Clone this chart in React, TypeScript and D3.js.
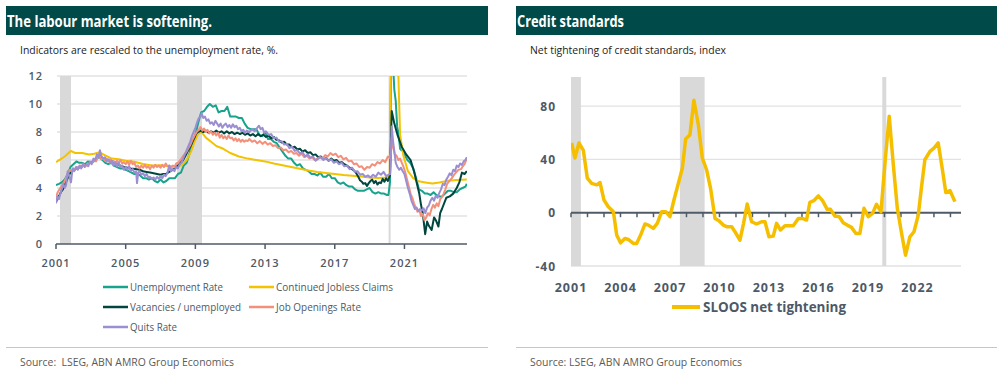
import React from 'react';
import * as d3 from 'd3';

type P = [number, number];

// ---------- Left chart data (year, value) ----------
const unemploymentRate: P[] = [
  [2001.0, 4.2], [2001.17, 4.3], [2001.33, 4.4], [2001.5, 4.6], [2001.67, 5.0], [2001.83, 5.5],
  [2002.0, 5.7], [2002.17, 5.9], [2002.33, 5.8], [2002.5, 5.8], [2002.67, 5.7], [2002.83, 5.9],
  [2003.0, 5.8], [2003.17, 5.9], [2003.33, 6.1], [2003.5, 6.2], [2003.67, 6.0], [2003.83, 5.8],
  [2004.0, 5.7], [2004.17, 5.8], [2004.33, 5.6], [2004.5, 5.5], [2004.67, 5.4], [2004.83, 5.4],
  [2005.0, 5.3], [2005.17, 5.2], [2005.33, 5.1], [2005.5, 5.0], [2005.67, 5.0], [2005.83, 4.9],
  [2006.0, 4.7], [2006.17, 4.7], [2006.33, 4.6], [2006.5, 4.7], [2006.67, 4.5], [2006.83, 4.4],
  [2007.0, 4.6], [2007.17, 4.4], [2007.33, 4.5], [2007.5, 4.7], [2007.67, 4.7], [2007.83, 4.7],
  [2008.0, 5.0], [2008.17, 5.1], [2008.33, 5.6], [2008.5, 5.8], [2008.67, 6.5], [2008.83, 7.3],
  [2009.0, 7.8], [2009.17, 8.7], [2009.33, 9.4], [2009.5, 9.5], [2009.67, 9.8], [2009.83, 10.0],
  [2010.0, 9.8], [2010.17, 9.9], [2010.33, 9.4], [2010.5, 9.5], [2010.67, 9.5], [2010.83, 9.8],
  [2011.0, 9.1], [2011.17, 9.1], [2011.33, 9.1], [2011.5, 9.0], [2011.67, 9.0], [2011.83, 8.6],
  [2012.0, 8.3], [2012.17, 8.2], [2012.33, 8.2], [2012.5, 8.2], [2012.67, 7.8], [2012.83, 7.7],
  [2013.0, 8.0], [2013.17, 7.5], [2013.33, 7.5], [2013.5, 7.3], [2013.67, 7.2], [2013.83, 6.9],
  [2014.0, 6.6], [2014.17, 6.3], [2014.33, 6.1], [2014.5, 6.1], [2014.67, 5.8], [2014.83, 5.6],
  [2015.0, 5.7], [2015.17, 5.4], [2015.33, 5.3], [2015.5, 5.2], [2015.67, 5.0], [2015.83, 5.0],
  [2016.0, 4.9], [2016.17, 5.1], [2016.33, 4.8], [2016.5, 4.8], [2016.67, 5.0], [2016.83, 4.7],
  [2017.0, 4.7], [2017.17, 4.4], [2017.33, 4.3], [2017.5, 4.4], [2017.67, 4.2], [2017.83, 4.1],
  [2018.0, 4.1], [2018.17, 3.9], [2018.33, 3.8], [2018.5, 3.8], [2018.67, 3.8], [2018.83, 3.9],
  [2019.0, 4.0], [2019.17, 3.7], [2019.33, 3.6], [2019.5, 3.7], [2019.67, 3.6], [2019.83, 3.6],
  [2020.0, 3.5], [2020.08, 3.5], [2020.17, 4.4], [2020.25, 14.7], [2020.33, 13.2], [2020.42, 11.0],
  [2020.5, 10.2], [2020.58, 8.4], [2020.67, 7.8], [2020.75, 6.8], [2020.83, 6.7], [2020.92, 6.7],
  [2021.0, 6.4], [2021.17, 6.0], [2021.33, 5.8], [2021.5, 5.4], [2021.67, 4.7], [2021.83, 3.9],
  [2022.0, 3.8], [2022.17, 3.6], [2022.33, 3.6], [2022.5, 3.5], [2022.67, 3.7], [2022.83, 3.5],
  [2023.0, 3.4], [2023.17, 3.4], [2023.33, 3.6], [2023.5, 3.8], [2023.67, 3.8], [2023.83, 3.7],
  [2024.0, 3.7], [2024.17, 3.9], [2024.33, 4.0], [2024.5, 4.1], [2024.58, 4.3],
];

const continuedClaims: P[] = [
  [2001.0, 5.85], [2001.25, 6.05], [2001.5, 6.25], [2001.85, 6.65], [2002.1, 6.5], [2002.5, 6.5],
  [2002.9, 6.4], [2003.2, 6.45], [2003.5, 6.55], [2003.8, 6.35], [2004.2, 6.1], [2004.6, 6.05],
  [2005.0, 5.95], [2005.5, 5.88], [2006.0, 5.72], [2006.5, 5.6], [2007.0, 5.62], [2007.5, 5.55],
  [2007.9, 5.55], [2008.2, 5.6], [2008.5, 6.0], [2008.75, 6.6], [2008.95, 7.3], [2009.15, 7.85],
  [2009.35, 8.0], [2009.6, 7.6], [2009.9, 7.3], [2010.2, 7.0], [2010.6, 6.8], [2011.0, 6.5],
  [2011.5, 6.25], [2012.0, 6.1], [2012.5, 6.0], [2013.0, 5.9], [2013.5, 5.75], [2014.0, 5.63],
  [2014.5, 5.5], [2015.0, 5.38], [2015.5, 5.25], [2016.0, 5.15], [2016.5, 5.07], [2017.0, 5.0],
  [2017.5, 4.93], [2018.0, 4.88], [2018.5, 4.82], [2019.0, 4.75], [2019.5, 4.72], [2020.0, 4.75],
  [2020.15, 4.9], [2020.22, 12.5], [2020.3, 30], [2020.55, 25], [2020.64, 12.5], [2020.75, 7.8],
  [2020.94, 6.3], [2021.2, 5.2], [2021.5, 4.7], [2021.75, 4.5], [2022.2, 4.4], [2022.6, 4.32],
  [2023.0, 4.4], [2023.5, 4.52], [2024.0, 4.58], [2024.58, 4.6],
];

const vacanciesPerUnemployed: P[] = [
  [2001.0, 3.0], [2001.1, 3.3], [2001.2, 3.5], [2001.3, 3.75], [2001.4, 3.9], [2001.5, 4.2],
  [2001.6, 4.5], [2001.7, 4.8], [2001.8, 5.05], [2001.9, 5.2], [2002.0, 5.3], [2002.2, 5.4],
  [2002.4, 5.5], [2002.55, 5.6], [2002.7, 5.65], [2002.85, 5.7], [2002.95, 5.8], [2003.1, 5.9],
  [2003.2, 6.0], [2003.35, 6.15], [2003.5, 6.35], [2003.65, 6.15], [2003.8, 6.1], [2003.95, 6.0],
  [2004.1, 6.0], [2004.3, 5.85], [2004.5, 5.7], [2004.7, 5.6], [2004.9, 5.5], [2005.1, 5.45],
  [2005.3, 5.4], [2005.55, 5.35], [2005.8, 5.3], [2006.0, 5.2], [2006.2, 5.15], [2006.4, 5.1],
  [2006.6, 5.05], [2006.8, 5.0], [2007.0, 4.95], [2007.15, 5.0], [2007.3, 5.0], [2007.5, 5.15],
  [2007.7, 5.3], [2007.85, 5.45], [2008.0, 5.6], [2008.15, 5.8], [2008.3, 6.0], [2008.45, 6.35],
  [2008.55, 6.6], [2008.7, 6.95], [2008.8, 7.2], [2008.95, 7.6], [2009.05, 7.9], [2009.15, 8.0],
  [2009.3, 8.1], [2009.45, 8.0], [2009.6, 8.1], [2009.75, 7.95], [2009.9, 8.05], [2010.05, 7.95],
  [2010.2, 8.1], [2010.35, 7.95], [2010.5, 8.05], [2010.65, 7.9], [2010.8, 8.05], [2010.95, 7.9],
  [2011.1, 8.0], [2011.25, 7.85], [2011.4, 7.95], [2011.56, 7.85], [2011.7, 7.95], [2011.85, 7.8],
  [2012.0, 7.9], [2012.15, 7.75], [2012.3, 7.85], [2012.45, 7.7], [2012.6, 7.85], [2012.75, 7.7],
  [2012.9, 7.8], [2013.05, 7.65], [2013.2, 7.75], [2013.35, 7.55], [2013.5, 7.65], [2013.65, 7.45],
  [2013.8, 7.4], [2013.95, 7.25], [2014.1, 7.3], [2014.25, 7.1], [2014.4, 7.1], [2014.55, 6.9],
  [2014.7, 6.95], [2014.85, 6.75], [2015.0, 6.8], [2015.15, 6.6], [2015.3, 6.7], [2015.45, 6.5],
  [2015.6, 6.55], [2015.75, 6.35], [2015.9, 6.4], [2016.05, 6.2], [2016.2, 6.25], [2016.35, 6.05],
  [2016.5, 6.15], [2016.65, 5.95], [2016.8, 6.1], [2016.95, 5.95], [2017.1, 6.0], [2017.25, 5.8],
  [2017.4, 5.85], [2017.55, 5.7], [2017.7, 5.6], [2017.85, 5.45], [2018.0, 5.35], [2018.15, 5.2],
  [2018.26, 5.0], [2018.35, 4.8], [2018.45, 4.55], [2018.55, 4.45], [2018.64, 4.3], [2018.75, 4.35],
  [2018.85, 4.15], [2018.95, 4.35], [2019.05, 4.5], [2019.15, 4.6], [2019.25, 4.35], [2019.35, 4.5],
  [2019.45, 4.25], [2019.55, 4.4], [2019.65, 4.35], [2019.75, 4.65], [2019.85, 4.45], [2019.95, 4.7],
  [2020.05, 4.5], [2020.17, 4.9], [2020.27, 9.5], [2020.42, 8.6], [2020.6, 7.8], [2020.84, 6.95],
  [2021.1, 6.4], [2021.35, 6.0], [2021.55, 5.2], [2021.7, 4.4], [2021.85, 3.6], [2021.95, 2.8],
  [2022.05, 2.2], [2022.19, 0.7], [2022.3, 1.6], [2022.4, 1.3], [2022.56, 1.0], [2022.7, 1.9],
  [2022.8, 1.7], [2022.95, 1.25], [2023.05, 2.2], [2023.15, 2.5], [2023.4, 3.3], [2023.6, 3.4],
  [2023.8, 3.6], [2024.0, 4.0], [2024.15, 4.4], [2024.3, 5.1], [2024.45, 5.0], [2024.58, 5.2],
];

const jobOpeningsRate: P[] = [
  [2001.0, 3.35], [2001.1, 3.7], [2001.2, 3.9], [2001.3, 4.1], [2001.4, 4.3], [2001.5, 4.5],
  [2001.6, 4.8], [2001.7, 5.1], [2001.8, 5.3], [2001.9, 5.2], [2002.0, 5.4], [2002.1, 5.3],
  [2002.2, 5.5], [2002.3, 5.45], [2002.4, 5.6], [2002.5, 5.5], [2002.6, 5.65], [2002.7, 5.55],
  [2002.8, 5.75], [2002.9, 5.7], [2003.0, 5.85], [2003.1, 5.8], [2003.2, 6.0], [2003.3, 5.9],
  [2003.4, 6.2], [2003.5, 6.3], [2003.6, 6.05], [2003.7, 6.1], [2003.8, 5.95], [2003.9, 6.1],
  [2004.0, 5.9], [2004.1, 6.05], [2004.2, 5.8], [2004.3, 5.95], [2004.4, 5.75], [2004.5, 5.95],
  [2004.6, 5.8], [2004.7, 6.0], [2004.8, 5.75], [2004.9, 5.85], [2005.0, 5.7], [2005.1, 5.9],
  [2005.2, 5.65], [2005.3, 5.95], [2005.4, 5.7], [2005.5, 5.8], [2005.6, 5.5], [2005.7, 5.6],
  [2005.8, 5.4], [2005.9, 5.6], [2006.0, 5.45], [2006.1, 5.65], [2006.2, 5.45], [2006.3, 5.55],
  [2006.4, 5.35], [2006.5, 5.6], [2006.6, 5.45], [2006.7, 5.65], [2006.8, 5.5], [2006.9, 5.6],
  [2007.0, 5.45], [2007.1, 5.65], [2007.2, 5.5], [2007.3, 5.75], [2007.4, 5.55], [2007.5, 5.6],
  [2007.6, 5.4], [2007.7, 5.6], [2007.8, 5.5], [2007.9, 5.75], [2008.0, 5.8], [2008.1, 5.95],
  [2008.2, 6.1], [2008.3, 6.3], [2008.4, 6.45], [2008.5, 6.6], [2008.6, 6.85], [2008.7, 7.05],
  [2008.8, 7.35], [2008.9, 7.6], [2009.0, 7.85], [2009.1, 8.05], [2009.2, 8.15], [2009.3, 8.35],
  [2009.4, 8.1], [2009.5, 8.25], [2009.6, 8.0], [2009.7, 8.15], [2009.8, 7.9], [2009.9, 8.05],
  [2010.0, 7.8], [2010.1, 7.95], [2010.2, 7.75], [2010.3, 7.95], [2010.4, 7.6], [2010.5, 7.8],
  [2010.6, 7.55], [2010.7, 7.7], [2010.8, 7.5], [2010.9, 7.75], [2011.0, 7.55], [2011.1, 7.6],
  [2011.2, 7.4], [2011.3, 7.55], [2011.4, 7.35], [2011.5, 7.5], [2011.6, 7.3], [2011.7, 7.45],
  [2011.8, 7.3], [2011.9, 7.4], [2012.0, 7.35], [2012.1, 7.5], [2012.25, 7.3], [2012.4, 7.4],
  [2012.55, 7.2], [2012.7, 7.35], [2012.85, 7.15], [2013.0, 7.3], [2013.15, 7.1], [2013.3, 7.2],
  [2013.45, 7.0], [2013.6, 7.05], [2013.75, 6.85], [2013.9, 6.9], [2014.05, 6.7], [2014.2, 6.75],
  [2014.35, 6.55], [2014.5, 6.65], [2014.65, 6.45], [2014.8, 6.5], [2014.95, 6.3], [2015.1, 6.45],
  [2015.25, 6.2], [2015.4, 6.3], [2015.55, 6.1], [2015.7, 6.2], [2015.85, 6.0], [2016.0, 6.1],
  [2016.15, 6.2], [2016.3, 6.1], [2016.45, 6.35], [2016.6, 6.25], [2016.75, 6.5], [2016.9, 6.35],
  [2017.05, 6.45], [2017.2, 6.2], [2017.35, 6.3], [2017.5, 6.05], [2017.65, 6.15], [2017.8, 5.9],
  [2017.95, 5.95], [2018.1, 5.7], [2018.25, 5.75], [2018.4, 5.5], [2018.55, 5.55], [2018.7, 5.3],
  [2018.85, 5.5], [2019.0, 5.45], [2019.15, 5.7], [2019.3, 5.6], [2019.45, 5.85], [2019.6, 5.75],
  [2019.75, 6.0], [2019.9, 5.85], [2020.05, 6.25], [2020.15, 6.15], [2020.22, 6.5], [2020.27, 7.6],
  [2020.35, 6.9], [2020.45, 6.4], [2020.55, 6.3], [2020.65, 6.0], [2020.75, 6.1], [2020.85, 5.8],
  [2020.95, 5.5], [2021.05, 5.1], [2021.15, 4.6], [2021.25, 4.1], [2021.35, 3.6], [2021.45, 3.3],
  [2021.55, 2.9], [2021.65, 2.6], [2021.75, 2.3], [2021.85, 2.45], [2021.95, 2.0], [2022.05, 2.15],
  [2022.15, 1.7], [2022.25, 1.9], [2022.35, 2.2], [2022.45, 2.05], [2022.55, 2.5], [2022.65, 2.8],
  [2022.75, 2.6], [2022.85, 2.9], [2022.95, 2.7], [2023.05, 3.2], [2023.15, 3.35], [2023.25, 3.6],
  [2023.35, 3.9], [2023.45, 4.3], [2023.55, 4.45], [2023.65, 4.6], [2023.75, 4.75], [2023.85, 4.95],
  [2023.95, 5.1], [2024.1, 5.3], [2024.25, 5.35], [2024.35, 5.55], [2024.45, 5.7], [2024.58, 6.1],
];

const quitsRate: P[] = [
  [2001.0, 2.9], [2001.08, 3.4], [2001.17, 3.2], [2001.25, 3.6], [2001.33, 3.9], [2001.42, 4.3],
  [2001.5, 4.0], [2001.58, 4.2], [2001.67, 5.2], [2001.75, 4.9], [2001.86, 4.4], [2001.95, 5.4],
  [2002.05, 5.2], [2002.15, 5.5], [2002.25, 5.3], [2002.35, 5.6], [2002.45, 5.4], [2002.55, 5.75],
  [2002.65, 5.5], [2002.75, 5.7], [2002.85, 5.55], [2002.95, 5.9], [2003.05, 5.7], [2003.15, 6.1],
  [2003.25, 6.0], [2003.35, 6.4], [2003.45, 6.2], [2003.52, 6.7], [2003.6, 6.3], [2003.7, 6.1],
  [2003.8, 6.2], [2003.9, 5.9], [2004.0, 6.05], [2004.1, 5.8], [2004.2, 5.95], [2004.3, 5.6],
  [2004.4, 5.85], [2004.5, 5.55], [2004.6, 5.8], [2004.7, 5.5], [2004.8, 5.6], [2004.9, 5.3],
  [2005.0, 5.5], [2005.1, 5.3], [2005.2, 5.55], [2005.3, 5.2], [2005.4, 5.35], [2005.5, 5.1],
  [2005.6, 5.2], [2005.65, 4.35], [2005.72, 5.1], [2005.8, 5.2], [2005.9, 4.95], [2006.0, 5.05],
  [2006.1, 4.85], [2006.2, 5.0], [2006.3, 4.75], [2006.4, 4.8], [2006.5, 4.65], [2006.6, 4.75],
  [2006.7, 4.6], [2006.8, 4.8], [2006.9, 4.65], [2007.0, 4.85], [2007.1, 4.7], [2007.2, 4.95],
  [2007.3, 4.85], [2007.4, 5.1], [2007.5, 5.6], [2007.6, 5.2], [2007.7, 5.35], [2007.8, 5.2],
  [2007.9, 5.5], [2008.0, 5.4], [2008.1, 5.7], [2008.2, 5.8], [2008.3, 6.1], [2008.4, 6.4],
  [2008.5, 6.7], [2008.6, 7.0], [2008.7, 7.3], [2008.8, 7.7], [2008.9, 8.0], [2009.0, 8.3],
  [2009.1, 8.7], [2009.2, 9.0], [2009.3, 9.1], [2009.36, 9.35], [2009.45, 9.0], [2009.55, 9.1],
  [2009.65, 8.8], [2009.75, 8.9], [2009.85, 8.6], [2009.95, 8.7], [2010.05, 8.5], [2010.15, 8.8],
  [2010.25, 8.6], [2010.35, 8.4], [2010.45, 8.6], [2010.55, 8.3], [2010.65, 8.5], [2010.75, 8.6],
  [2010.85, 8.35], [2010.95, 8.5], [2011.05, 8.3], [2011.15, 8.55], [2011.25, 8.35], [2011.35, 8.45],
  [2011.45, 8.2], [2011.55, 8.3], [2011.65, 8.05], [2011.75, 8.15], [2011.85, 7.95], [2011.95, 8.1],
  [2012.1, 8.0], [2012.25, 8.2], [2012.4, 8.05], [2012.55, 8.3], [2012.65, 8.45], [2012.75, 8.2],
  [2012.85, 8.3], [2012.95, 7.95], [2013.05, 8.05], [2013.2, 7.8], [2013.35, 7.85], [2013.5, 7.55],
  [2013.65, 7.6], [2013.8, 7.3], [2013.95, 7.35], [2014.1, 7.1], [2014.25, 7.15], [2014.4, 6.85],
  [2014.55, 6.95], [2014.7, 6.65], [2014.85, 6.7], [2015.0, 6.45], [2015.15, 6.55], [2015.3, 6.25],
  [2015.45, 6.4], [2015.6, 6.15], [2015.75, 6.25], [2015.9, 5.95], [2016.05, 6.1], [2016.2, 6.2],
  [2016.35, 6.0], [2016.5, 6.15], [2016.65, 5.95], [2016.8, 6.05], [2016.95, 5.8], [2017.1, 5.9],
  [2017.25, 5.7], [2017.4, 5.8], [2017.55, 5.55], [2017.7, 5.6], [2017.85, 5.35], [2018.0, 5.45],
  [2018.15, 5.15], [2018.3, 5.2], [2018.45, 4.95], [2018.6, 5.0], [2018.75, 4.8], [2018.9, 4.9],
  [2019.05, 4.75], [2019.2, 4.95], [2019.35, 4.8], [2019.5, 5.1], [2019.65, 4.95], [2019.8, 5.15],
  [2019.95, 4.85], [2020.1, 4.95], [2020.18, 5.0], [2020.27, 8.4], [2020.35, 7.3], [2020.42, 6.6],
  [2020.5, 5.8], [2020.6, 5.5], [2020.7, 5.3], [2020.8, 5.45], [2020.9, 5.2], [2021.0, 5.0],
  [2021.1, 4.5], [2021.2, 4.0], [2021.3, 3.6], [2021.4, 3.1], [2021.5, 2.8], [2021.6, 2.5],
  [2021.7, 2.6], [2021.8, 2.35], [2021.9, 2.5], [2022.0, 2.4], [2022.1, 2.55], [2022.2, 2.2],
  [2022.3, 2.6], [2022.4, 2.75], [2022.5, 3.1], [2022.6, 3.3], [2022.7, 3.1], [2022.8, 3.45],
  [2022.9, 3.3], [2023.0, 3.65], [2023.1, 3.9], [2023.2, 4.3], [2023.3, 4.2], [2023.4, 4.6],
  [2023.5, 4.8], [2023.6, 5.05], [2023.7, 4.9], [2023.8, 5.3], [2023.9, 5.2], [2024.0, 5.6],
  [2024.1, 5.5], [2024.2, 5.75], [2024.3, 5.65], [2024.4, 5.9], [2024.5, 6.0], [2024.58, 6.2],
];

const leftRecessions: P[] = [[2001.23, 2001.86], [2007.95, 2009.38], [2020.09, 2020.2]];
const leftYTicks = [0, 2, 4, 6, 8, 10, 12];
const leftXTicks = [2001, 2005, 2009, 2013, 2017, 2021];

// ---------- Right chart data ----------
const sloos: P[] = [
  [2001.04, 52.3], [2001.24, 41], [2001.48, 52.3], [2001.75, 46.7], [2001.99, 25.9], [2002.25, 22],
  [2002.56, 20.9], [2002.76, 22.6], [2003.0, 9.5], [2003.26, 4.5], [2003.57, 0.75], [2003.77, -16.8],
  [2004.0, -22.6], [2004.27, -19.3], [2004.47, -20.1], [2004.78, -23.1], [2004.98, -23.1], [2005.22, -16.8],
  [2005.48, -8.5], [2005.69, -9.3], [2005.99, -11.8], [2006.23, -8.0], [2006.5, 0.75], [2006.74, 0.75],
  [2007.0, -3.0], [2007.24, 9.5], [2007.51, 22.1], [2007.75, 33.4], [2007.95, 55.3], [2008.21, 58.5],
  [2008.45, 84.4], [2008.72, 66], [2008.96, 41], [2009.22, 32.2], [2009.46, 18.3], [2009.73, -4.3],
  [2009.97, -6], [2010.23, -9.3], [2010.47, -10.6], [2010.74, -10.6], [2010.94, -14.3], [2011.24, -20.6],
  [2011.46, -8], [2011.68, 6.5], [2011.95, -6.8], [2012.25, -8.5], [2012.55, -6.8], [2012.76, -6.8],
  [2013.0, -18.1], [2013.26, -17.6], [2013.46, -8], [2013.7, -13], [2013.97, -9.8], [2014.47, -9.8],
  [2014.78, -4.3], [2015.02, -4.3], [2015.28, -5.5], [2015.48, 7.8], [2015.72, 9], [2015.99, 12.6],
  [2016.25, 9], [2016.53, 2.5], [2016.73, 2.5], [2016.99, -2.5], [2017.26, -3.0], [2017.5, -7.5],
  [2017.74, -9.3], [2018.0, -11], [2018.27, -15.6], [2018.51, -15.6], [2018.76, 3.3], [2019.02, -3.0],
  [2019.28, -0.5], [2019.52, 6.3], [2019.79, 0.75], [2020.03, 37], [2020.29, 72.4], [2020.53, 37],
  [2020.78, 3.3], [2021.04, -15.6], [2021.28, -31.9], [2021.54, -18.1], [2021.79, -14.3], [2022.05, -1.8],
  [2022.25, 19.6], [2022.45, 39.7], [2022.76, 46], [2023.0, 48.5], [2023.26, 52.3], [2023.5, 33.4],
  [2023.72, 15.1], [2023.97, 16.6], [2024.27, 8.3],
];

const rightRecessions: P[] = [[2001.0, 2001.6], [2007.6, 2009.1], [2019.87, 2020.11]];
const rightYTicks = [-40, 0, 40, 80];
const rightXLabels = [2001, 2004, 2007, 2010, 2013, 2016, 2019, 2022];
const rightXTicks = [2001, 2002, 2003, 2004, 2005, 2006, 2007, 2008, 2009, 2010, 2011, 2012,
  2013, 2014, 2015, 2016, 2017, 2018, 2019, 2020, 2021, 2022, 2023, 2024];

const leftSeries = [
  { name: 'Unemployment Rate', data: unemploymentRate, color: '#17a38c' },
  { name: 'Continued Jobless Claims', data: continuedClaims, color: '#f3c300' },
  { name: 'Vacancies / unemployed', data: vacanciesPerUnemployed, color: '#00463f' },
  { name: 'Job Openings Rate', data: jobOpeningsRate, color: '#f3907b' },
  { name: 'Quits Rate', data: quitsRate, color: '#9b8fd2' },
];

const HEADER = '#004b49';
const AXIS = '#4f5b66';
const GRID = '#e2e2e2';
const LABEL = '#4d5966';
const SHADE = '#d9d9d9';
const TICKFONT = '"Open Sans", "DejaVu Sans", sans-serif';

export default function App() {
  const xL = d3.scaleLinear().domain([2001, 2024.59]).range([56, 467]);
  const yL = d3.scaleLinear().domain([0, 12]).range([244, 76]);
  const lineL = d3.line<P>().x(d => xL(d[0])).y(d => yL(d[1]));

  const xR = d3.scaleLinear().domain([2001, 2024.64]).range([571, 961]);
  const yR = d3.scaleLinear().domain([-40, 101.8]).range([266, 77]);
  const lineR = d3.line<P>().x(d => xR(d[0])).y(d => yR(d[1]));

  const legendPos = [
    { lx: 103, tx: 130, y: 287 },
    { lx: 249, tx: 276, y: 287 },
    { lx: 103, tx: 130, y: 307 },
    { lx: 249, tx: 276, y: 307 },
    { lx: 103, tx: 130, y: 327 },
  ];
  const legendLens = [93, 117, 111, 85, 47];

  return (
    <svg width={997} height={375} style={{ position: 'absolute', left: 0, top: 0, background: '#fff' }}
      fontFamily={TICKFONT}>
      <defs>
        <clipPath id="clipL">
          <rect x={xL(2001)} y={yL(12)} width={xL(2024.59) - xL(2001)} height={yL(0) - yL(12)} />
        </clipPath>
        <clipPath id="clipR">
          <rect x={xR(2001)} y={yR(101.8)} width={xR(2024.64) - xR(2001)} height={yR(-40) - yR(101.8)} />
        </clipPath>
      </defs>

      {/* ---------------- LEFT PANEL ---------------- */}
      <rect x={6} y={6} width={482} height={29} fill={HEADER} />
      <text x={7} y={27} fill="#fff" fontWeight={700} fontSize={15.5} textLength={205} lengthAdjust="spacingAndGlyphs">
        The labour market is softening.
      </text>
      <text x={20} y={54} fill="#222" fontSize={11} textLength={258} lengthAdjust="spacingAndGlyphs">
        Indicators are rescaled to the unemployment rate, %.
      </text>

      {leftYTicks.filter(t => t > 0).map(t => (
        <line key={'gl' + t} x1={xL(2001) + 1} x2={xL(2024.59)} y1={yL(t)} y2={yL(t)} stroke={GRID} strokeWidth={1.3} />
      ))}
      {leftRecessions.map((r, i) => (
        <rect key={'rl' + i} x={xL(r[0])} width={Math.max(2, xL(r[1]) - xL(r[0]))} y={yL(12)} height={yL(0) - yL(12)} fill={SHADE} />
      ))}
      <g clipPath="url(#clipL)">
        {leftSeries.map(s => (
          <path key={s.name} d={lineL(s.data) || ''} fill="none" stroke={s.color} strokeWidth={2} strokeLinejoin="round" />
        ))}
      </g>
      <line x1={xL(2001)} x2={xL(2024.59)} y1={yL(0)} y2={yL(0)} stroke={AXIS} strokeWidth={1.5} />
      {leftXTicks.map(t => (
        <g key={'xl' + t}>
          <line x1={xL(t)} x2={xL(t)} y1={yL(0)} y2={yL(0) + 5} stroke={AXIS} strokeWidth={1.5} />
          <text x={xL(t)} y={267} textAnchor="middle" fontSize={11} fontWeight={600} letterSpacing={1} fill={LABEL}>{t}</text>
        </g>
      ))}
      {leftYTicks.map(t => (
        <text key={'yl' + t} x={43} y={yL(t) + 4} textAnchor="end" fontSize={11} fontWeight={600} letterSpacing={1} fill={LABEL}>{t}</text>
      ))}

      {leftSeries.map((s, i) => (
        <g key={'lg' + i}>
          <line x1={legendPos[i].lx} x2={legendPos[i].lx + 25} y1={legendPos[i].y} y2={legendPos[i].y} stroke={s.color} strokeWidth={2.5} />
          <text x={legendPos[i].tx} y={legendPos[i].y + 3.5} fontSize={10} fill={LABEL} textLength={legendLens[i]} lengthAdjust="spacingAndGlyphs">{s.name}</text>
        </g>
      ))}

      <line x1={6} x2={488} y1={347.5} y2={347.5} stroke="#c6c6c6" strokeWidth={1} />
      <text x={20} y={366} fontSize={11} fill="#5a5a5a" style={{ whiteSpace: 'pre' }} textLength={214} lengthAdjust="spacingAndGlyphs">
        {'Source:  LSEG, ABN AMRO Group Economics'}
      </text>

      {/* ---------------- RIGHT PANEL ---------------- */}
      <rect x={516} y={6} width={481} height={29} fill={HEADER} />
      <text x={517} y={27} fill="#fff" fontWeight={700} fontSize={15.5} textLength={107} lengthAdjust="spacingAndGlyphs">
        Credit standards
      </text>
      <text x={530} y={54} fill="#222" fontSize={11} textLength={196} lengthAdjust="spacingAndGlyphs">
        Net tightening of credit standards, index
      </text>

      {rightYTicks.filter(t => t !== 0).map(t => (
        <line key={'gr' + t} x1={xR(2001)} x2={xR(2024.64)} y1={yR(t)} y2={yR(t)} stroke={GRID} strokeWidth={1.3} />
      ))}
      {rightRecessions.map((r, i) => (
        <rect key={'rr' + i} x={xR(r[0])} width={xR(r[1]) - xR(r[0])} y={yR(101.8)} height={yR(-40) - yR(101.8)} fill={SHADE} />
      ))}
      <line x1={xR(2001)} x2={xR(2024.64)} y1={yR(0)} y2={yR(0)} stroke={AXIS} strokeWidth={2} />
      {rightXTicks.map(t => (
        <line key={'xt' + t} x1={xR(t)} x2={xR(t)} y1={yR(0)} y2={yR(0) + 4.5} stroke={AXIS} strokeWidth={1.5} />
      ))}
      <g clipPath="url(#clipR)">
        <path d={lineR(sloos) || ''} fill="none" stroke="#f5bf00" strokeWidth={3.5} strokeLinejoin="round" />
      </g>
      {rightXLabels.map(t => (
        <text key={'xr' + t} x={xR(t)} y={292} textAnchor="middle" fontSize={12.5} fontWeight={700} letterSpacing={1} fill={LABEL}>{t}</text>
      ))}
      {rightYTicks.map(t => (
        <text key={'yr' + t} x={556} y={yR(t) + 4.5} textAnchor="end" fontSize={12} fontWeight={700} letterSpacing={1} fill={LABEL}>{t}</text>
      ))}

      <line x1={672} x2={700} y1={307} y2={307} stroke="#f5bf00" strokeWidth={4} />
      <text x={703} y={312} fontSize={13.5} fontWeight={700} fill={LABEL} textLength={143} lengthAdjust="spacingAndGlyphs">
        SLOOS net tightening
      </text>

      <line x1={516} x2={997} y1={347.5} y2={347.5} stroke="#c6c6c6" strokeWidth={1} />
      <text x={530} y={366} fontSize={11} fill="#5a5a5a" textLength={212} lengthAdjust="spacingAndGlyphs">
        Source: LSEG, ABN AMRO Group Economics
      </text>
    </svg>
  );
}
